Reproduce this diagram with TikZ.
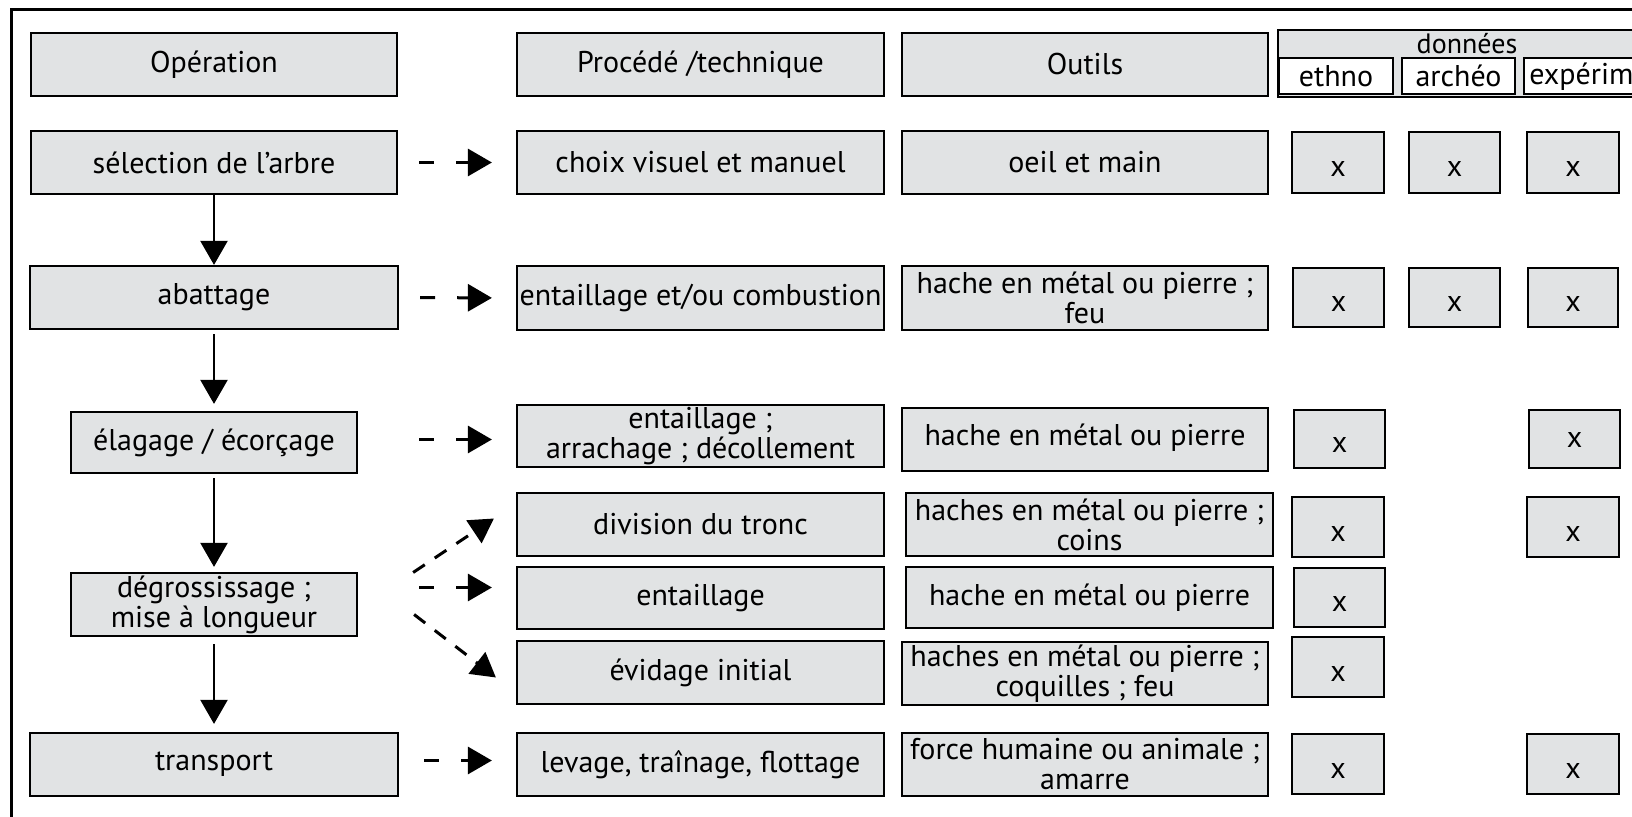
\documentclass[tikz,border=0pt]{standalone}
\usepackage{fontspec}
\setmainfont{PT Sans}
\usetikzlibrary{arrows.meta,calc}
\definecolor{boxgray}{RGB}{225,227,228}
\newcommand\fsz{\fontsize{15}{15}\selectfont}
\newcommand\xmark{\raisebox{-7pt}[0pt][0pt]{x}}
\begin{document}
\begin{tikzpicture}[x=0.5pt,y=-0.5pt,
  box/.style={draw=black, line width=1.1pt, fill=boxgray, inner sep=0pt, align=center, font=\fsz},
  wbox/.style={draw=black, line width=1.1pt, fill=white, inner sep=0pt, align=center, font=\fsz},
  corners/.style args={#1/#2/#3/#4}{minimum width={(#3-#1)*0.5pt}, minimum height={(#4-#2)*0.5pt}, at={({(#1+#3)/2},{(#2+#4)/2})}},
  varrow/.style={line width=1.1pt, -{Triangle[length=12pt,width=13.5pt]}, shorten <=2pt, shorten >=3pt},
  harrow/.style={line width=1.5pt, -{Triangle[length=12pt,width=13.5pt]}, dash pattern=on 7.5pt off 11pt on 40pt, shorten <=10.5pt, shorten >=12pt},
  darrow/.style={line width=1.5pt, -{Triangle[length=12pt,width=13.5pt]}, dash pattern=on 7pt off 6pt},
]
\useasboundingbox (0,0) rectangle (1632,817);
\fill[white] (0,0) rectangle (1632,817);
\clip (0,0) rectangle (1632,817);
% frame
\draw[line width=1.5pt] (11.6,830) -- (11.6,10) -- (1650,10);

% left column
\node[box, corners=31/33/397/96] (op) {Opération};
\node[box, corners=31/131/397/194] (sel) {sélection de l’arbre};
\node[box, corners=30/266/398/329] (ab) {abattage};
\node[box, corners=71/412/357/473] (el) {élagage / écorçage};
\node[box, corners=71/573/357/636] (dg) {dégrossissage ;\\ mise à longueur};
\node[box, corners=30/733/398/796] (tr) {transport};

% procede column
\node[box, corners=517/33/884/96] (ph) {Procédé /technique};
\node[box, corners=517/131/884/194] (p1) {choix visuel et manuel};
\node[box, corners=517/266/884/330] (p2) {entaillage et/ou combustion};
\node[box, corners=517/405/884/467] (p3) {entaillage ;\\ arrachage ; décollement};
\node[box, corners=517/493/884/556] (p4) {division du tronc};
\node[box, corners=517/567/884/629] (p5) {entaillage};
\node[box, corners=517/641/884/704] (p6) {évidage initial};
\node[box, corners=517/733/884/796] (p7) {levage, traînage, flottage};

% outils column
\node[box, corners=902/33/1268/96] (oh) {Outils};
\node[box, corners=902/131/1268/194] (o1) {oeil et main};
\node[box, corners=902/266/1268/330] (o2) {hache en métal ou pierre ;\\ feu};
\node[box, corners=902/408/1268/471] (o3) {\raisebox{5pt}{hache en métal ou pierre}};
\node[box, corners=906/493/1273/556] (o4) {haches en métal ou pierre ;\\ coins};
\node[box, corners=906/567/1273/628] (o5) {\raisebox{3pt}{hache en métal ou pierre}};
\node[box, corners=902/642/1268/705] (o6) {haches en métal ou pierre ;\\ coquilles ; feu};
\node[box, corners=902/733/1268/796] (o7) {force humaine ou animale ;\\ amarre};

% donnees header
\node[box, corners=1278/30/1660/97] (dn) {};
\node[font=\fontsize{14}{14}\selectfont, inner sep=0pt] (dnl) at (1467,44) {données};
\node[wbox, corners=1279/58/1393/94] (eh) {\raisebox{-2pt}{ethno}};
\node[wbox, corners=1402/58/1515/94] (ah) {\raisebox{-2pt}{archéo}};
\node[wbox, corners=1524/58/1660/94] (xh) {};
\node[font=\fsz, anchor=west, inner sep=0pt] (xhl) at (1529,77) {\raisebox{-2pt}{expérim}};

% x boxes
\node[box, corners=1292/132/1384/193] (e1) {\xmark};
\node[box, corners=1409/132/1500/193] (a1) {\xmark};
\node[box, corners=1527/132/1619/193] (x1) {\xmark};
\node[box, corners=1293/268/1384/327] (e2) {\xmark};
\node[box, corners=1409/268/1500/327] (a2) {\xmark};
\node[box, corners=1528/268/1618/327] (x2) {\xmark};
\node[box, corners=1294/410/1385/468] (e3) {\xmark};
\node[box, corners=1529/410/1620/468] (x3) {\raisebox{-4.5pt}[0pt][0pt]{x}};
\node[box, corners=1292/497/1384/557] (e4) {\xmark};
\node[box, corners=1527/497/1619/557] (x4) {\xmark};
\node[box, corners=1294/568/1385/627] (e5) {\xmark};
\node[box, corners=1292/637/1384/697] (e6) {\xmark};
\node[box, corners=1292/734/1384/794] (e7) {\xmark};
\node[box, corners=1527/734/1619/794] (x7) {\xmark};

% vertical arrows
\draw[varrow, shorten <=0pt, shorten >=0pt] (sel) -- (ab);
\draw[varrow, shorten >=3.5pt] (ab) -- (el);
\draw[varrow, shorten >=2.5pt] (el) -- (dg);
\draw[varrow, shorten <=3.5pt, shorten >=4pt] (dg) -- (tr);

% horizontal dashed arrows
\coordinate (s3) at ($(el.east)+(0,-3)$);
\coordinate (s5) at ($(dg.east)+(0,-17)$);
\coordinate (s7) at ($(tr.east)+(0,-4)$);
\draw[harrow] (sel.east) -- (p1.west);
\draw[harrow] (ab.east) -- (p2.west);
\draw[harrow, shorten <=30.5pt] (s3) -- (s3 -| p3.west);
\draw[harrow, shorten <=30.5pt] (s5) -- (s5 -| p5.west);
\draw[harrow, shorten <=12.5pt] (s7) -- (s7 -| p7.west);

% diagonal dashed arrows
\draw[darrow] ($(dg.east)+(55,-32)$) -- ($(p4.west)+(-22,-6)$);
\draw[darrow] ($(dg.east)+(56,10)$) -- ($(p6.west)+(-20,5)$);
\end{tikzpicture}
\end{document}
